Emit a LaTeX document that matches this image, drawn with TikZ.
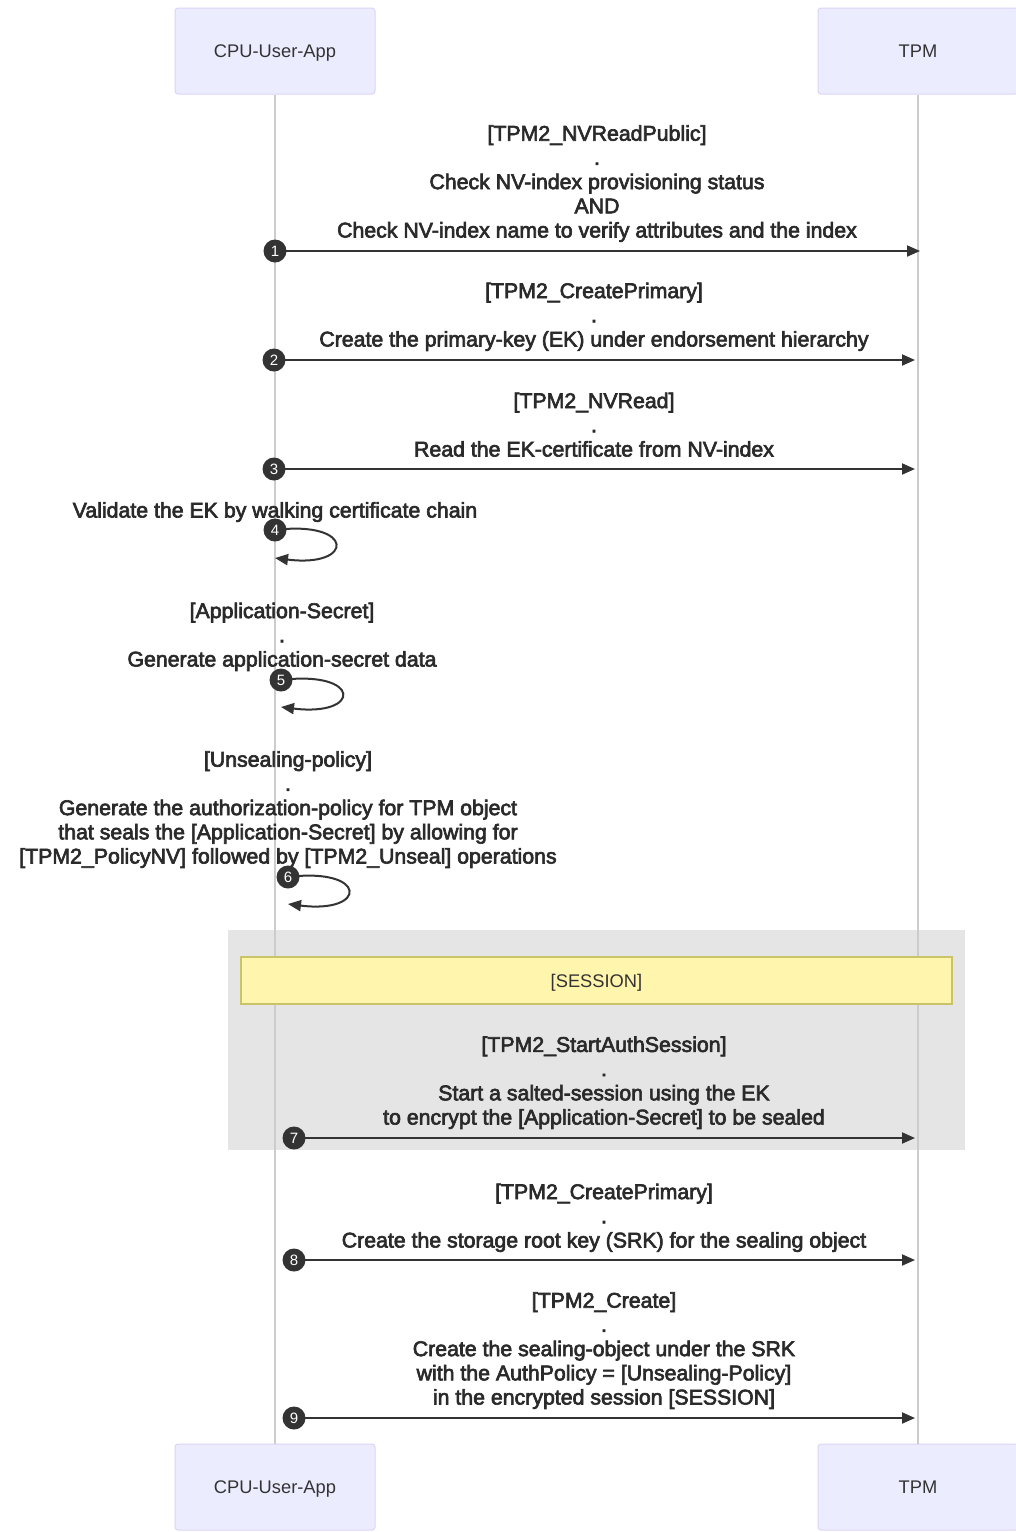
\documentclass[tikz,border=0pt]{standalone}
\usepackage{fontspec}
\setmainfont{Liberation Sans}
\newfontfamily\msgfont[FakeBold=3]{Liberation Sans}
\usetikzlibrary{arrows.meta}
\definecolor{txt}{HTML}{333333}
\definecolor{msgtxt}{HTML}{2A2A2A}
\definecolor{actorfill}{HTML}{ECECFF}
\definecolor{actorline}{HTML}{DCD4F7}
\definecolor{lifec}{HTML}{CCCCCC}
\definecolor{sessfill}{HTML}{E5E5E5}
\definecolor{notefill}{HTML}{FFF5AD}
\definecolor{noteline}{HTML}{C9C46A}
\tikzset{
  actor/.style={draw=actorline, fill=actorfill, rounded corners=3pt, minimum width=200pt, minimum height=86pt, font=\fontsize{18.3}{20}\selectfont, text=txt, line width=1pt, inner sep=0pt, text height=13.1pt, text depth=0pt},
  msg/.style={align=center, font=\msgfont\fontsize{21.3}{24.2}\selectfont, text=msgtxt, inner sep=0pt, anchor=base},
  num/.style={circle, fill=txt, text=white, minimum size=23pt, inner sep=0pt, font=\fontsize{15}{15}\selectfont},
  arr/.style={draw=txt, line width=2pt, -{Triangle[length=13pt,width=11pt]}},
  life/.style={draw=lifec, line width=1.5pt},
}
\begin{document}
\begin{tikzpicture}[x=1pt,y=-1pt]
\clip (0,0) rectangle (1016,1532);
\fill[white] (0,0) rectangle (1016,1532);
% session area
\fill[sessfill] (228,930) rectangle (965,1150);
% actors
\node[actor] (cpuT) at (275,51) {CPU-User-App};
\node[actor] (tpmT) at (918,51) {TPM};
\node[actor] (cpuB) at (275,1487) {CPU-User-App};
\node[actor] (tpmB) at (918,1487) {TPM};
\draw[life] (cpuT.south) -- (cpuB.north);
\draw[life] (tpmT.south) -- (tpmB.north);
% session note
\node[draw=noteline, fill=notefill, line width=1.5pt, minimum width=711pt, minimum height=47pt, inner sep=0pt, font=\fontsize{18.3}{20}\selectfont, text=txt, text height=13.1pt, text depth=0pt] (sess) at (596.5,980.5) {[SESSION]};

% message 1
\node[msg] (m1) at (597,237.5) {[TPM2\_NVReadPublic]\\.\\Check NV-index provisioning status\\AND\\Check NV-index name to verify attributes and the index};
\coordinate (s1) at (275,251); \coordinate (e1) at (920,251);
\draw[arr] (s1) -- (e1);
\node[num] (c1) at (s1) {1};

% message 2
\node[msg] (m2) at (594,346.5) {[TPM2\_CreatePrimary]\\.\\Create the primary-key (EK) under endorsement hierarchy};
\coordinate (s2) at (274,360); \coordinate (e2) at (915,360);
\draw[arr] (s2) -- (e2);
\node[num] (c2) at (s2) {2};

% message 3
\node[msg] (m3) at (594,456.5) {[TPM2\_NVRead]\\.\\Read the EK-certificate from NV-index};
\coordinate (s3) at (274,469); \coordinate (e3) at (915,469);
\draw[arr] (s3) -- (e3);
\node[num] (c3) at (s3) {3};

% message 4 (self)
\node[msg] (m4) at (275,517.5) {Validate the EK by walking certificate chain};
\coordinate (s4) at (275,530); \coordinate (e4) at (275,558);
\draw[arr] (s4) .. controls (355,520) and (355,568) .. (e4);
\node[num] (c4) at (s4) {4};

% message 5 (self)
\node[msg] (m5) at (282,666.5) {[Application-Secret]\\.\\Generate application-secret data};
\coordinate (s5) at (281,680); \coordinate (e5) at (281,707);
\draw[arr] (s5) .. controls (362,670) and (362,717) .. (e5);
\node[num] (c5) at (s5) {5};

% message 6 (self)
\node[msg] (m6) at (288,863.5) {[Unsealing-policy]\\.\\Generate the authorization-policy for TPM object\\that seals the [Application-Secret] by allowing for\\{}[TPM2\_PolicyNV] followed by [TPM2\_Unseal] operations};
\coordinate (s6) at (288,877); \coordinate (e6) at (288,904);
\draw[arr] (s6) .. controls (368,867) and (368,914) .. (e6);
\node[num] (c6) at (s6) {6};

% message 7
\node[msg] (m7) at (604,1124.5) {[TPM2\_StartAuthSession]\\.\\Start a salted-session using the EK\\to encrypt the [Application-Secret] to be sealed};
\coordinate (s7) at (294,1138); \coordinate (e7) at (915,1138);
\draw[arr] (s7) -- (e7);
\node[num] (c7) at (s7) {7};

% message 8
\node[msg] (m8) at (604,1247.5) {[TPM2\_CreatePrimary]\\.\\Create the storage root key (SRK) for the sealing object};
\coordinate (s8) at (294,1260); \coordinate (e8) at (915,1260);
\draw[arr] (s8) -- (e8);
\node[num] (c8) at (s8) {8};

% message 9
\node[msg] (m9) at (604,1404.5) {[TPM2\_Create]\\.\\Create the sealing-object under the SRK\\with the AuthPolicy = [Unsealing-Policy]\\in the encrypted session [SESSION]};
\coordinate (s9) at (294,1418); \coordinate (e9) at (915,1418);
\draw[arr] (s9) -- (e9);
\node[num] (c9) at (s9) {9};
\end{tikzpicture}
\end{document}
